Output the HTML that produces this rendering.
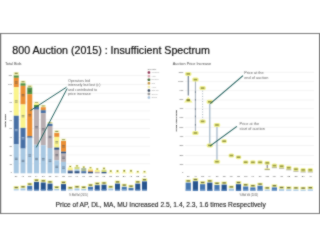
<!DOCTYPE html>
<html><head><meta charset="utf-8"><style>
html,body{margin:0;padding:0;background:#fff;}
body{width:320px;height:247px;overflow:hidden;}
svg{display:block;font-family:"Liberation Sans",sans-serif;}
text{}
</style></head><body>
<svg width="320" height="247" viewBox="0 0 320 247">
<defs><filter id="soft" x="0" y="0" width="320" height="247" filterUnits="userSpaceOnUse" color-interpolation-filters="sRGB"><feConvolveMatrix order="3" kernelMatrix="1 2 1 2 14 2 1 2 1" divisor="26" edgeMode="duplicate"/></filter></defs>
<g filter="url(#soft)">
<rect x="0" y="0" width="320" height="247" fill="#fff"/>
<rect x="0.00" y="33.00" width="320.00" height="181.00" fill="#fff" />
<rect x="0.00" y="33.00" width="320.00" height="1.00" fill="#7a7a7a" />
<rect x="0.00" y="213.00" width="320.00" height="1.00" fill="#7a7a7a" />
<rect x="319.00" y="33.00" width="1.00" height="181.00" fill="#7a7a7a" />
<rect x="0.00" y="33.00" width="1.20" height="181.00" fill="#777" />
<rect x="13.00" y="75.20" width="137.00" height="0.80" fill="#f1f1f1" />
<rect x="13.00" y="84.02" width="137.00" height="0.80" fill="#f1f1f1" />
<rect x="13.00" y="92.84" width="137.00" height="0.80" fill="#f1f1f1" />
<rect x="13.00" y="101.66" width="137.00" height="0.80" fill="#f1f1f1" />
<rect x="13.00" y="110.48" width="137.00" height="0.80" fill="#f1f1f1" />
<rect x="13.00" y="119.30" width="137.00" height="0.80" fill="#f1f1f1" />
<rect x="13.00" y="128.12" width="137.00" height="0.80" fill="#f1f1f1" />
<rect x="13.00" y="136.94" width="137.00" height="0.80" fill="#f1f1f1" />
<rect x="13.00" y="145.76" width="137.00" height="0.80" fill="#f1f1f1" />
<rect x="13.00" y="154.58" width="137.00" height="0.80" fill="#f1f1f1" />
<rect x="13.00" y="163.40" width="137.00" height="0.80" fill="#f1f1f1" />
<rect x="185.00" y="71.85" width="129.00" height="0.80" fill="#f1f1f1" />
<rect x="185.00" y="80.90" width="129.00" height="0.80" fill="#f1f1f1" />
<rect x="185.00" y="90.30" width="129.00" height="0.80" fill="#f1f1f1" />
<rect x="185.00" y="99.60" width="129.00" height="0.80" fill="#f1f1f1" />
<rect x="185.00" y="108.35" width="129.00" height="0.80" fill="#f1f1f1" />
<rect x="185.00" y="117.60" width="129.00" height="0.80" fill="#f1f1f1" />
<rect x="185.00" y="126.85" width="129.00" height="0.80" fill="#f1f1f1" />
<rect x="185.00" y="135.85" width="129.00" height="0.80" fill="#f1f1f1" />
<rect x="185.00" y="145.20" width="129.00" height="0.80" fill="#f1f1f1" />
<rect x="185.00" y="155.20" width="129.00" height="0.80" fill="#f1f1f1" />
<rect x="185.00" y="164.35" width="129.00" height="0.80" fill="#f1f1f1" />
<text x="4.90" y="64.70" font-size="3.84" fill="#4a4a4a" text-anchor="start" >Total Bids</text>
<text x="11.90" y="76.40" font-size="2.2" fill="#3a3a3a" text-anchor="end" >110</text>
<text x="11.90" y="85.22" font-size="2.2" fill="#3a3a3a" text-anchor="end" >100</text>
<text x="11.90" y="94.04" font-size="2.2" fill="#3a3a3a" text-anchor="end" >90</text>
<text x="11.90" y="102.86" font-size="2.2" fill="#3a3a3a" text-anchor="end" >80</text>
<text x="11.90" y="111.68" font-size="2.2" fill="#3a3a3a" text-anchor="end" >70</text>
<text x="11.90" y="120.50" font-size="2.2" fill="#3a3a3a" text-anchor="end" >60</text>
<text x="11.90" y="129.32" font-size="2.2" fill="#3a3a3a" text-anchor="end" >50</text>
<text x="11.90" y="138.14" font-size="2.2" fill="#3a3a3a" text-anchor="end" >40</text>
<text x="11.90" y="146.96" font-size="2.2" fill="#3a3a3a" text-anchor="end" >30</text>
<text x="11.90" y="155.78" font-size="2.2" fill="#3a3a3a" text-anchor="end" >20</text>
<text x="11.90" y="164.60" font-size="2.2" fill="#3a3a3a" text-anchor="end" >10</text>
<text x="11.90" y="173.42" font-size="2.2" fill="#3a3a3a" text-anchor="end" >0</text>
<text x="6.30" y="120.80" font-size="2.3" fill="#333" text-anchor="middle" transform="rotate(-90 6.3 120.8)" textLength="13.2" lengthAdjust="spacingAndGlyphs" stroke="#333" stroke-width="0.1">Total Bids</text>
<rect x="13.55" y="72.20" width="5.40" height="3.00" fill="#f3f3b6" />
<rect x="14.75" y="72.70" width="3.00" height="1.32" fill="#6a6a22" opacity="0.75"/>
<rect x="13.75" y="75.50" width="5.00" height="2.30" fill="#549441" />
<rect x="13.75" y="77.80" width="5.00" height="9.40" fill="#eb8f34" />
<rect x="14.85" y="81.40" width="2.80" height="0.80" fill="#3a4656" opacity="0.55"/>
<rect x="14.85" y="82.80" width="2.80" height="0.80" fill="#3a4656" opacity="0.55"/>
<rect x="13.75" y="87.20" width="5.00" height="28.55" fill="#faf48c" />
<rect x="14.85" y="100.38" width="2.80" height="0.80" fill="#3a4656" opacity="0.55"/>
<rect x="14.85" y="101.77" width="2.80" height="0.80" fill="#3a4656" opacity="0.55"/>
<rect x="13.75" y="115.75" width="5.00" height="28.65" fill="#4870a5" />
<rect x="14.85" y="128.97" width="2.80" height="0.80" fill="#dfe8f2" opacity="0.6"/>
<rect x="14.85" y="130.38" width="2.80" height="0.80" fill="#dfe8f2" opacity="0.6"/>
<rect x="13.75" y="144.40" width="5.00" height="28.90" fill="#a8c8e2" />
<rect x="14.85" y="157.75" width="2.80" height="0.80" fill="#3a4656" opacity="0.55"/>
<rect x="14.85" y="159.15" width="2.80" height="0.80" fill="#3a4656" opacity="0.55"/>
<rect x="20.30" y="80.70" width="5.40" height="2.30" fill="#f3f3b6" />
<rect x="21.50" y="81.20" width="3.00" height="1.04" fill="#6a6a22" opacity="0.75"/>
<rect x="20.50" y="83.30" width="5.00" height="2.50" fill="#549441" />
<rect x="20.50" y="85.80" width="5.00" height="18.70" fill="#eb8f34" />
<rect x="21.60" y="94.05" width="2.80" height="0.80" fill="#3a4656" opacity="0.55"/>
<rect x="21.60" y="95.45" width="2.80" height="0.80" fill="#3a4656" opacity="0.55"/>
<rect x="20.50" y="104.50" width="5.00" height="23.40" fill="#faf48c" />
<rect x="21.60" y="115.10" width="2.80" height="0.80" fill="#3a4656" opacity="0.55"/>
<rect x="21.60" y="116.50" width="2.80" height="0.80" fill="#3a4656" opacity="0.55"/>
<rect x="20.50" y="127.90" width="5.00" height="20.70" fill="#4870a5" />
<rect x="21.60" y="137.15" width="2.80" height="0.80" fill="#dfe8f2" opacity="0.6"/>
<rect x="21.60" y="138.55" width="2.80" height="0.80" fill="#dfe8f2" opacity="0.6"/>
<rect x="20.50" y="148.60" width="5.00" height="24.70" fill="#a8c8e2" />
<rect x="21.60" y="159.85" width="2.80" height="0.80" fill="#3a4656" opacity="0.55"/>
<rect x="21.60" y="161.25" width="2.80" height="0.80" fill="#3a4656" opacity="0.55"/>
<rect x="27.05" y="85.30" width="5.40" height="1.90" fill="#f3f3b6" />
<rect x="28.25" y="85.80" width="3.00" height="0.88" fill="#6a6a22" opacity="0.75"/>
<rect x="27.25" y="87.50" width="5.00" height="6.70" fill="#549441" />
<rect x="28.35" y="89.75" width="2.80" height="0.80" fill="#3a4656" opacity="0.55"/>
<rect x="28.35" y="91.15" width="2.80" height="0.80" fill="#3a4656" opacity="0.55"/>
<rect x="27.25" y="94.20" width="5.00" height="42.05" fill="#eb8f34" />
<rect x="28.35" y="114.12" width="2.80" height="0.80" fill="#3a4656" opacity="0.55"/>
<rect x="28.35" y="115.52" width="2.80" height="0.80" fill="#3a4656" opacity="0.55"/>
<rect x="27.25" y="136.25" width="5.00" height="1.45" fill="#2c4f80" />
<rect x="27.25" y="137.70" width="5.00" height="35.60" fill="#a8c8e2" />
<rect x="28.35" y="154.40" width="2.80" height="0.80" fill="#3a4656" opacity="0.55"/>
<rect x="28.35" y="155.80" width="2.80" height="0.80" fill="#3a4656" opacity="0.55"/>
<rect x="33.80" y="101.75" width="5.40" height="1.15" fill="#f3f3b6" />
<rect x="35.00" y="102.25" width="3.00" height="0.70" fill="#6a6a22" opacity="0.75"/>
<rect x="34.00" y="103.20" width="5.00" height="1.80" fill="#faf48c" />
<rect x="34.00" y="105.00" width="5.00" height="2.00" fill="#549441" />
<rect x="34.00" y="107.00" width="5.00" height="2.70" fill="#4870a5" />
<rect x="34.00" y="109.70" width="5.00" height="35.00" fill="#b8aeb1" />
<rect x="35.10" y="126.10" width="2.80" height="0.80" fill="#3a4656" opacity="0.55"/>
<rect x="35.10" y="127.50" width="2.80" height="0.80" fill="#3a4656" opacity="0.55"/>
<rect x="34.00" y="144.70" width="5.00" height="28.60" fill="#a8c8e2" />
<rect x="35.10" y="157.90" width="2.80" height="0.80" fill="#3a4656" opacity="0.55"/>
<rect x="35.10" y="159.30" width="2.80" height="0.80" fill="#3a4656" opacity="0.55"/>
<rect x="40.55" y="105.00" width="5.40" height="1.90" fill="#f3f3b6" />
<rect x="41.75" y="105.50" width="3.00" height="0.88" fill="#6a6a22" opacity="0.75"/>
<rect x="40.75" y="107.20" width="5.00" height="3.00" fill="#eb8f34" />
<rect x="40.75" y="110.20" width="5.00" height="3.00" fill="#4870a5" />
<rect x="40.75" y="113.20" width="5.00" height="32.00" fill="#b8aeb1" />
<rect x="41.85" y="128.10" width="2.80" height="0.80" fill="#3a4656" opacity="0.55"/>
<rect x="41.85" y="129.50" width="2.80" height="0.80" fill="#3a4656" opacity="0.55"/>
<rect x="40.75" y="145.20" width="5.00" height="28.10" fill="#a8c8e2" />
<rect x="41.85" y="158.15" width="2.80" height="0.80" fill="#3a4656" opacity="0.55"/>
<rect x="41.85" y="159.55" width="2.80" height="0.80" fill="#3a4656" opacity="0.55"/>
<rect x="47.30" y="122.00" width="5.40" height="1.50" fill="#f3f3b6" />
<rect x="48.50" y="122.50" width="3.00" height="0.72" fill="#6a6a22" opacity="0.75"/>
<rect x="47.50" y="123.80" width="5.00" height="2.20" fill="#4870a5" />
<rect x="47.50" y="126.00" width="5.00" height="22.00" fill="#b8aeb1" />
<rect x="48.60" y="135.90" width="2.80" height="0.80" fill="#3a4656" opacity="0.55"/>
<rect x="48.60" y="137.30" width="2.80" height="0.80" fill="#3a4656" opacity="0.55"/>
<rect x="47.50" y="148.00" width="5.00" height="25.30" fill="#a8c8e2" />
<rect x="48.60" y="159.55" width="2.80" height="0.80" fill="#3a4656" opacity="0.55"/>
<rect x="48.60" y="160.95" width="2.80" height="0.80" fill="#3a4656" opacity="0.55"/>
<rect x="54.05" y="130.40" width="5.40" height="2.30" fill="#f3f3b6" />
<rect x="55.25" y="130.90" width="3.00" height="1.04" fill="#6a6a22" opacity="0.75"/>
<rect x="54.25" y="133.00" width="5.00" height="3.90" fill="#eb8f34" />
<rect x="54.25" y="136.90" width="5.00" height="10.70" fill="#faf48c" />
<rect x="55.35" y="141.15" width="2.80" height="0.80" fill="#3a4656" opacity="0.55"/>
<rect x="55.35" y="142.55" width="2.80" height="0.80" fill="#3a4656" opacity="0.55"/>
<rect x="54.25" y="147.60" width="5.00" height="2.20" fill="#2c4f80" />
<rect x="54.25" y="149.80" width="5.00" height="10.60" fill="#b8aeb1" />
<rect x="55.35" y="154.00" width="2.80" height="0.80" fill="#3a4656" opacity="0.55"/>
<rect x="55.35" y="155.40" width="2.80" height="0.80" fill="#3a4656" opacity="0.55"/>
<rect x="54.25" y="160.40" width="5.00" height="12.90" fill="#a8c8e2" />
<rect x="55.35" y="165.75" width="2.80" height="0.80" fill="#3a4656" opacity="0.55"/>
<rect x="55.35" y="167.15" width="2.80" height="0.80" fill="#3a4656" opacity="0.55"/>
<rect x="60.80" y="138.75" width="5.40" height="1.95" fill="#f3f3b6" />
<rect x="62.00" y="139.25" width="3.00" height="0.90" fill="#6a6a22" opacity="0.75"/>
<rect x="61.00" y="141.00" width="5.00" height="10.70" fill="#eb8f34" />
<rect x="62.10" y="145.25" width="2.80" height="0.80" fill="#3a4656" opacity="0.55"/>
<rect x="62.10" y="146.65" width="2.80" height="0.80" fill="#3a4656" opacity="0.55"/>
<rect x="61.00" y="151.70" width="5.00" height="1.90" fill="#2c4f80" />
<rect x="61.00" y="153.60" width="5.00" height="8.30" fill="#b8aeb1" />
<rect x="62.10" y="156.65" width="2.80" height="0.80" fill="#3a4656" opacity="0.55"/>
<rect x="62.10" y="158.05" width="2.80" height="0.80" fill="#3a4656" opacity="0.55"/>
<rect x="61.00" y="161.90" width="5.00" height="11.40" fill="#a8c8e2" />
<rect x="62.10" y="166.50" width="2.80" height="0.80" fill="#3a4656" opacity="0.55"/>
<rect x="62.10" y="167.90" width="2.80" height="0.80" fill="#3a4656" opacity="0.55"/>
<rect x="68.95" y="165.60" width="2.60" height="1.70" fill="#eff08e" />
<rect x="69.55" y="166.00" width="1.40" height="1.05" fill="#6a6a22" opacity="0.8"/>
<rect x="67.75" y="167.50" width="5.00" height="2.50" fill="#faf48c" />
<rect x="67.75" y="170.00" width="5.00" height="1.20" fill="#b8aeb1" />
<rect x="67.75" y="171.20" width="5.00" height="2.10" fill="#2c4f80" />
<rect x="75.70" y="165.00" width="2.60" height="1.70" fill="#eff08e" />
<rect x="76.30" y="165.40" width="1.40" height="1.05" fill="#6a6a22" opacity="0.8"/>
<rect x="74.50" y="166.90" width="5.00" height="2.50" fill="#d3da7e" />
<rect x="74.50" y="169.40" width="5.00" height="1.80" fill="#a8c8e2" />
<rect x="74.50" y="171.20" width="5.00" height="2.10" fill="#2c4f80" />
<rect x="82.45" y="166.20" width="2.60" height="1.70" fill="#eff08e" />
<rect x="83.05" y="166.60" width="1.40" height="1.05" fill="#6a6a22" opacity="0.8"/>
<rect x="81.25" y="168.10" width="5.00" height="3.10" fill="#a9b994" />
<rect x="81.25" y="171.20" width="5.00" height="2.10" fill="#4870a5" />
<rect x="89.20" y="166.90" width="2.60" height="1.65" fill="#eff08e" />
<rect x="89.80" y="167.30" width="1.40" height="1.02" fill="#6a6a22" opacity="0.8"/>
<rect x="88.00" y="168.75" width="5.00" height="1.85" fill="#faf48c" />
<rect x="88.00" y="170.60" width="5.00" height="1.20" fill="#eb8f34" />
<rect x="88.00" y="171.80" width="5.00" height="1.50" fill="#2c4f80" />
<rect x="95.95" y="168.10" width="2.60" height="1.70" fill="#eff08e" />
<rect x="96.55" y="168.50" width="1.40" height="1.05" fill="#6a6a22" opacity="0.8"/>
<rect x="94.75" y="170.00" width="5.00" height="1.90" fill="#faf48c" />
<rect x="94.75" y="171.90" width="5.00" height="1.40" fill="#b8aeb1" />
<rect x="102.70" y="167.40" width="2.60" height="2.20" fill="#eff08e" />
<rect x="103.30" y="167.80" width="1.40" height="1.32" fill="#6a6a22" opacity="0.8"/>
<rect x="101.50" y="169.80" width="5.00" height="2.20" fill="#d3da7e" />
<rect x="101.50" y="172.00" width="5.00" height="1.30" fill="#2c4f80" />
<rect x="109.45" y="170.00" width="2.60" height="2.30" fill="#eff08e" />
<rect x="110.05" y="170.40" width="1.40" height="1.38" fill="#6a6a22" opacity="0.8"/>
<rect x="108.25" y="172.50" width="5.00" height="0.80" fill="#faf48c" />
<rect x="116.20" y="170.00" width="2.60" height="2.30" fill="#eff08e" />
<rect x="116.80" y="170.40" width="1.40" height="1.38" fill="#6a6a22" opacity="0.8"/>
<rect x="115.00" y="172.50" width="5.00" height="0.80" fill="#faf48c" />
<rect x="122.95" y="169.60" width="2.60" height="2.70" fill="#eff08e" />
<rect x="123.55" y="170.00" width="1.40" height="1.60" fill="#6a6a22" opacity="0.8"/>
<rect x="121.75" y="172.50" width="5.00" height="0.80" fill="#faf48c" />
<rect x="129.70" y="169.60" width="2.60" height="2.70" fill="#eff08e" />
<rect x="130.30" y="170.00" width="1.40" height="1.60" fill="#6a6a22" opacity="0.8"/>
<rect x="128.50" y="172.50" width="5.00" height="0.80" fill="#faf48c" />
<rect x="136.45" y="170.80" width="2.60" height="1.80" fill="#eff08e" />
<rect x="137.05" y="171.20" width="1.40" height="1.10" fill="#6a6a22" opacity="0.8"/>
<rect x="135.25" y="172.80" width="5.00" height="0.50" fill="#faf48c" />
<rect x="143.20" y="170.80" width="2.60" height="1.80" fill="#eff08e" />
<rect x="143.80" y="171.20" width="1.40" height="1.10" fill="#6a6a22" opacity="0.8"/>
<rect x="142.00" y="172.80" width="5.00" height="0.50" fill="#faf48c" />
<text x="16.10" y="176.70" font-size="2.1" fill="#333" text-anchor="middle" >DL</text>
<text x="22.85" y="176.70" font-size="2.1" fill="#333" text-anchor="middle" >AP</text>
<text x="29.60" y="176.70" font-size="2.1" fill="#333" text-anchor="middle" >MU</text>
<text x="36.35" y="176.70" font-size="2.1" fill="#333" text-anchor="middle" >KA</text>
<text x="43.10" y="176.70" font-size="2.1" fill="#333" text-anchor="middle" >GJ</text>
<text x="49.85" y="176.70" font-size="2.1" fill="#333" text-anchor="middle" >TN</text>
<text x="56.60" y="176.70" font-size="2.1" fill="#333" text-anchor="middle" >MH</text>
<text x="63.35" y="176.70" font-size="2.1" fill="#333" text-anchor="middle" >UE</text>
<text x="70.10" y="176.70" font-size="2.1" fill="#333" text-anchor="middle" >UW</text>
<text x="76.85" y="176.70" font-size="2.1" fill="#333" text-anchor="middle" >KL</text>
<text x="83.60" y="176.70" font-size="2.1" fill="#333" text-anchor="middle" >RJ</text>
<text x="90.35" y="176.70" font-size="2.1" fill="#333" text-anchor="middle" >WB</text>
<text x="97.10" y="176.70" font-size="2.1" fill="#333" text-anchor="middle" >MP</text>
<text x="103.85" y="176.70" font-size="2.1" fill="#333" text-anchor="middle" >HR</text>
<text x="110.60" y="176.70" font-size="2.1" fill="#333" text-anchor="middle" >PB</text>
<text x="117.35" y="176.70" font-size="2.1" fill="#333" text-anchor="middle" >OR</text>
<text x="124.10" y="176.70" font-size="2.1" fill="#333" text-anchor="middle" >BH</text>
<text x="130.85" y="176.70" font-size="2.1" fill="#333" text-anchor="middle" >AS</text>
<text x="137.60" y="176.70" font-size="2.1" fill="#333" text-anchor="middle" >NE</text>
<text x="144.35" y="176.70" font-size="2.1" fill="#333" text-anchor="middle" >HP</text>
<rect x="13.55" y="186.20" width="5.40" height="2.60" fill="#eff08e" />
<rect x="14.65" y="186.85" width="3.20" height="1.30" fill="#4d4d2a" opacity="0.8"/>
<rect x="13.75" y="189.20" width="5.00" height="1.20" fill="#a3c6e4" />
<rect x="20.30" y="185.50" width="5.40" height="2.60" fill="#eff08e" />
<rect x="21.40" y="186.15" width="3.20" height="1.30" fill="#4d4d2a" opacity="0.8"/>
<rect x="20.50" y="188.50" width="5.00" height="1.90" fill="#a3c6e4" />
<rect x="27.05" y="182.80" width="5.40" height="2.60" fill="#eff08e" />
<rect x="28.15" y="183.45" width="3.20" height="1.30" fill="#4d4d2a" opacity="0.8"/>
<rect x="27.25" y="185.80" width="5.00" height="4.60" fill="#4677b0" />
<rect x="27.25" y="189.10" width="5.00" height="1.30" fill="#7ea6d2" />
<rect x="33.80" y="178.90" width="5.40" height="2.60" fill="#eff08e" />
<rect x="34.90" y="179.55" width="3.20" height="1.30" fill="#4d4d2a" opacity="0.8"/>
<rect x="34.00" y="181.90" width="5.00" height="8.50" fill="#28558e" />
<rect x="34.00" y="189.10" width="5.00" height="1.30" fill="#4f7fb8" />
<rect x="40.55" y="179.50" width="5.40" height="2.60" fill="#eff08e" />
<rect x="41.65" y="180.15" width="3.20" height="1.30" fill="#4d4d2a" opacity="0.8"/>
<rect x="40.75" y="182.50" width="5.00" height="7.90" fill="#28558e" />
<rect x="40.75" y="189.10" width="5.00" height="1.30" fill="#4f7fb8" />
<rect x="47.30" y="180.60" width="5.40" height="2.60" fill="#eff08e" />
<rect x="48.40" y="181.25" width="3.20" height="1.30" fill="#4d4d2a" opacity="0.8"/>
<rect x="47.50" y="183.60" width="5.00" height="6.80" fill="#28558e" />
<rect x="47.50" y="189.10" width="5.00" height="1.30" fill="#4f7fb8" />
<rect x="54.05" y="186.00" width="5.40" height="2.60" fill="#eff08e" />
<rect x="55.15" y="186.65" width="3.20" height="1.30" fill="#4d4d2a" opacity="0.8"/>
<rect x="54.25" y="189.00" width="5.00" height="1.40" fill="#a3c6e4" />
<rect x="60.80" y="181.10" width="5.40" height="2.60" fill="#eff08e" />
<rect x="61.90" y="181.75" width="3.20" height="1.30" fill="#4d4d2a" opacity="0.8"/>
<rect x="61.00" y="184.10" width="5.00" height="6.30" fill="#28558e" />
<rect x="61.00" y="189.10" width="5.00" height="1.30" fill="#4f7fb8" />
<rect x="67.55" y="186.50" width="5.40" height="2.60" fill="#eff08e" />
<rect x="68.65" y="187.15" width="3.20" height="1.30" fill="#4d4d2a" opacity="0.8"/>
<rect x="67.75" y="189.50" width="5.00" height="0.90" fill="#a3c6e4" />
<rect x="74.30" y="185.50" width="5.40" height="2.60" fill="#eff08e" />
<rect x="75.40" y="186.15" width="3.20" height="1.30" fill="#4d4d2a" opacity="0.8"/>
<rect x="74.50" y="188.50" width="5.00" height="1.90" fill="#a3c6e4" />
<rect x="81.05" y="186.00" width="5.40" height="2.60" fill="#eff08e" />
<rect x="82.15" y="186.65" width="3.20" height="1.30" fill="#4d4d2a" opacity="0.8"/>
<rect x="81.25" y="189.00" width="5.00" height="1.40" fill="#a3c6e4" />
<rect x="87.80" y="183.80" width="5.40" height="2.60" fill="#eff08e" />
<rect x="88.90" y="184.45" width="3.20" height="1.30" fill="#4d4d2a" opacity="0.8"/>
<rect x="88.00" y="186.80" width="5.00" height="3.60" fill="#4677b0" />
<rect x="88.00" y="189.10" width="5.00" height="1.30" fill="#7ea6d2" />
<rect x="94.55" y="182.20" width="5.40" height="2.60" fill="#eff08e" />
<rect x="95.65" y="182.85" width="3.20" height="1.30" fill="#4d4d2a" opacity="0.8"/>
<rect x="94.75" y="185.20" width="5.00" height="5.20" fill="#28558e" />
<rect x="94.75" y="189.10" width="5.00" height="1.30" fill="#4f7fb8" />
<rect x="101.30" y="181.70" width="5.40" height="2.60" fill="#eff08e" />
<rect x="102.40" y="182.35" width="3.20" height="1.30" fill="#4d4d2a" opacity="0.8"/>
<rect x="101.50" y="184.70" width="5.00" height="5.70" fill="#28558e" />
<rect x="101.50" y="189.10" width="5.00" height="1.30" fill="#4f7fb8" />
<rect x="108.05" y="185.50" width="5.40" height="2.60" fill="#eff08e" />
<rect x="109.15" y="186.15" width="3.20" height="1.30" fill="#4d4d2a" opacity="0.8"/>
<rect x="108.25" y="188.50" width="5.00" height="1.90" fill="#a3c6e4" />
<rect x="114.80" y="180.60" width="5.40" height="2.60" fill="#eff08e" />
<rect x="115.90" y="181.25" width="3.20" height="1.30" fill="#4d4d2a" opacity="0.8"/>
<rect x="115.00" y="183.60" width="5.00" height="6.80" fill="#28558e" />
<rect x="115.00" y="189.10" width="5.00" height="1.30" fill="#4f7fb8" />
<rect x="121.55" y="183.80" width="5.40" height="2.60" fill="#eff08e" />
<rect x="122.65" y="184.45" width="3.20" height="1.30" fill="#4d4d2a" opacity="0.8"/>
<rect x="121.75" y="186.80" width="5.00" height="3.60" fill="#4677b0" />
<rect x="121.75" y="189.10" width="5.00" height="1.30" fill="#7ea6d2" />
<rect x="128.30" y="184.90" width="5.40" height="2.60" fill="#eff08e" />
<rect x="129.40" y="185.55" width="3.20" height="1.30" fill="#4d4d2a" opacity="0.8"/>
<rect x="128.50" y="187.90" width="5.00" height="2.50" fill="#4677b0" />
<rect x="135.05" y="180.60" width="5.40" height="2.60" fill="#eff08e" />
<rect x="136.15" y="181.25" width="3.20" height="1.30" fill="#4d4d2a" opacity="0.8"/>
<rect x="135.25" y="183.60" width="5.00" height="6.80" fill="#28558e" />
<rect x="135.25" y="189.10" width="5.00" height="1.30" fill="#4f7fb8" />
<rect x="141.80" y="178.40" width="5.40" height="2.60" fill="#eff08e" />
<rect x="142.90" y="179.05" width="3.20" height="1.30" fill="#4d4d2a" opacity="0.8"/>
<rect x="142.00" y="181.40" width="5.00" height="9.00" fill="#28558e" />
<rect x="142.00" y="189.10" width="5.00" height="1.30" fill="#4f7fb8" />
<text x="69.00" y="195.50" font-size="2.7" fill="#505050" text-anchor="start" textLength="18.8" lengthAdjust="spacingAndGlyphs">% Bid Vol (2015)</text>
<text x="147.60" y="69.90" font-size="2.2" fill="#555" text-anchor="start" >Operator</text>
<rect x="147.6" y="71.35" width="2.6" height="2.5" rx="0.8" fill="#8e3452"/>
<text x="151.40" y="73.30" font-size="1.9" fill="#a0a0a0" text-anchor="start" >Vodafone</text>
<rect x="147.6" y="74.92" width="2.6" height="2.5" rx="0.8" fill="#dca6b2"/>
<text x="151.40" y="76.87" font-size="1.9" fill="#a0a0a0" text-anchor="start" >Airtel</text>
<rect x="147.6" y="78.49" width="2.6" height="2.5" rx="0.8" fill="#4a7040"/>
<text x="151.40" y="80.44" font-size="1.9" fill="#a0a0a0" text-anchor="start" >Reliance</text>
<rect x="147.6" y="82.06" width="2.6" height="2.5" rx="0.8" fill="#c99a4c"/>
<text x="151.40" y="84.01" font-size="1.9" fill="#a0a0a0" text-anchor="start" >Idea</text>
<rect x="147.6" y="85.63" width="2.6" height="2.5" rx="0.8" fill="#f3eeb0"/>
<text x="151.40" y="87.58" font-size="1.9" fill="#a0a0a0" text-anchor="start" >Aircel</text>
<rect x="147.6" y="89.20" width="2.6" height="2.5" rx="0.8" fill="#3e4d62"/>
<text x="151.40" y="91.15" font-size="1.9" fill="#a0a0a0" text-anchor="start" >Tata Tele</text>
<rect x="147.6" y="92.77" width="2.6" height="2.5" rx="0.8" fill="#9c9c9c"/>
<text x="151.40" y="94.72" font-size="1.9" fill="#a0a0a0" text-anchor="start" >Telenor</text>
<rect x="147.6" y="96.34" width="2.6" height="2.5" rx="0.8" fill="#aac2da"/>
<text x="151.40" y="98.29" font-size="1.9" fill="#a0a0a0" text-anchor="start" >Others</text>
<text x="68.00" y="81.80" font-size="3.65" fill="#666" text-anchor="start" >Operators bid</text>
<text x="68.00" y="86.18" font-size="3.65" fill="#666" text-anchor="start" >intensely but lost (c)</text>
<text x="68.00" y="90.56" font-size="3.65" fill="#666" text-anchor="start" >and contributed to</text>
<text x="68.00" y="94.94" font-size="3.65" fill="#666" text-anchor="start" >price increase</text>
<line x1="66.50" y1="87.20" x2="30.50" y2="110.50" stroke="#1f5f5c" stroke-width="1.0" />
<line x1="67.20" y1="88.50" x2="36.30" y2="147.40" stroke="#1f5f5c" stroke-width="1.0" />
<text x="172.80" y="64.70" font-size="3.84" fill="#4a4a4a" text-anchor="start" >Auction Price Increase</text>
<text x="183.40" y="72.65" font-size="2.3" fill="#3a3a3a" text-anchor="end" >1100</text>
<text x="183.40" y="81.70" font-size="2.3" fill="#3a3a3a" text-anchor="end" >1000</text>
<text x="183.40" y="91.10" font-size="2.3" fill="#3a3a3a" text-anchor="end" >900</text>
<text x="183.40" y="100.40" font-size="2.3" fill="#3a3a3a" text-anchor="end" >800</text>
<text x="183.40" y="109.15" font-size="2.3" fill="#3a3a3a" text-anchor="end" >700</text>
<text x="183.40" y="118.40" font-size="2.3" fill="#3a3a3a" text-anchor="end" >600</text>
<text x="183.40" y="127.65" font-size="2.3" fill="#3a3a3a" text-anchor="end" >500</text>
<text x="183.40" y="136.65" font-size="2.3" fill="#3a3a3a" text-anchor="end" >400</text>
<text x="183.40" y="146.00" font-size="2.3" fill="#3a3a3a" text-anchor="end" >300</text>
<text x="183.40" y="156.00" font-size="2.3" fill="#3a3a3a" text-anchor="end" >200</text>
<text x="183.40" y="165.15" font-size="2.3" fill="#3a3a3a" text-anchor="end" >100</text>
<text x="183.40" y="172.65" font-size="2.3" fill="#3a3a3a" text-anchor="end" >0</text>
<text x="176.60" y="120.70" font-size="2.4" fill="#333" text-anchor="middle" transform="rotate(-90 176.6 120.7)" textLength="21.6" lengthAdjust="spacingAndGlyphs" stroke="#333" stroke-width="0.1">Price (Rs Crore)</text>
<line x1="188.25" y1="73.90" x2="188.25" y2="95.50" stroke="#56687c" stroke-width="1.0" />
<path d="M188.25 96.8 L192.55 102.5 L183.95 102.5 Z" fill="#eff08e"/>
<rect x="186.55" y="99.20" width="3.40" height="2.00" fill="#6a6a22" opacity="0.85"/>
<rect x="185.05" y="71.90" width="6.40" height="4.0" rx="1.6" fill="#eff08e"/>
<rect x="186.45" y="73.10" width="3.60" height="1.60" fill="#6a6a22" opacity="0.65"/>
<line x1="195.43" y1="79.60" x2="195.43" y2="133.00" stroke="#8c98a6" stroke-width="0.8" />
<line x1="195.43" y1="91.30" x2="195.43" y2="92.90" stroke="#6a7888" stroke-width="0.9" />
<line x1="195.43" y1="99.00" x2="195.43" y2="100.60" stroke="#6a7888" stroke-width="0.9" />
<line x1="195.43" y1="108.30" x2="195.43" y2="109.90" stroke="#6a7888" stroke-width="0.9" />
<line x1="195.43" y1="115.60" x2="195.43" y2="117.20" stroke="#6a7888" stroke-width="0.9" />
<line x1="195.43" y1="124.00" x2="195.43" y2="125.60" stroke="#6a7888" stroke-width="0.9" />
<rect x="192.23" y="131.00" width="6.40" height="4.0" rx="1.6" fill="#eff08e"/>
<rect x="193.63" y="132.20" width="3.60" height="1.60" fill="#6a6a22" opacity="0.65"/>
<rect x="192.23" y="77.60" width="6.40" height="4.0" rx="1.6" fill="#eff08e"/>
<rect x="193.63" y="78.80" width="3.60" height="1.60" fill="#6a6a22" opacity="0.65"/>
<line x1="202.61" y1="88.10" x2="202.61" y2="121.40" stroke="#9aa6b2" stroke-width="0.9" stroke-dasharray="1 1.6"/>
<rect x="199.41" y="119.40" width="6.40" height="4.0" rx="1.6" fill="#eff08e"/>
<rect x="200.81" y="120.60" width="3.60" height="1.60" fill="#6a6a22" opacity="0.65"/>
<rect x="199.41" y="86.10" width="6.40" height="4.0" rx="1.6" fill="#eff08e"/>
<rect x="200.81" y="87.30" width="3.60" height="1.60" fill="#6a6a22" opacity="0.65"/>
<line x1="209.79" y1="101.80" x2="209.79" y2="145.40" stroke="#9fb4c6" stroke-width="1.2" />
<rect x="206.59" y="143.40" width="6.40" height="4.0" rx="1.6" fill="#eff08e"/>
<rect x="207.99" y="144.60" width="3.60" height="1.60" fill="#6a6a22" opacity="0.65"/>
<rect x="206.59" y="99.80" width="6.40" height="4.0" rx="1.6" fill="#eff08e"/>
<rect x="207.99" y="101.00" width="3.60" height="1.60" fill="#6a6a22" opacity="0.65"/>
<line x1="216.97" y1="125.00" x2="216.97" y2="161.70" stroke="#9fb4c6" stroke-width="1.2" />
<rect x="213.77" y="159.70" width="6.40" height="4.0" rx="1.6" fill="#eff08e"/>
<rect x="215.17" y="160.90" width="3.60" height="1.60" fill="#6a6a22" opacity="0.65"/>
<rect x="213.77" y="123.00" width="6.40" height="4.0" rx="1.6" fill="#eff08e"/>
<rect x="215.17" y="124.20" width="3.60" height="1.60" fill="#6a6a22" opacity="0.65"/>
<rect x="221.40" y="139.20" width="5.50" height="4.0" rx="1.6" fill="#eff08e"/>
<rect x="222.35" y="140.40" width="3.60" height="1.60" fill="#6a6a22" opacity="0.65"/>
<rect x="228.58" y="153.50" width="5.50" height="4.0" rx="1.6" fill="#eff08e"/>
<rect x="229.53" y="154.70" width="3.60" height="1.60" fill="#6a6a22" opacity="0.65"/>
<rect x="235.76" y="155.20" width="5.50" height="4.0" rx="1.6" fill="#eff08e"/>
<rect x="236.71" y="156.40" width="3.60" height="1.60" fill="#6a6a22" opacity="0.65"/>
<rect x="242.94" y="160.20" width="5.50" height="4.0" rx="1.6" fill="#eff08e"/>
<rect x="243.89" y="161.40" width="3.60" height="1.60" fill="#6a6a22" opacity="0.65"/>
<rect x="250.12" y="160.30" width="5.50" height="4.0" rx="1.6" fill="#eff08e"/>
<rect x="251.07" y="161.50" width="3.60" height="1.60" fill="#6a6a22" opacity="0.65"/>
<rect x="257.30" y="160.30" width="5.50" height="4.0" rx="1.6" fill="#eff08e"/>
<rect x="258.25" y="161.50" width="3.60" height="1.60" fill="#6a6a22" opacity="0.65"/>
<rect x="264.48" y="160.90" width="5.50" height="4.0" rx="1.6" fill="#eff08e"/>
<rect x="265.43" y="162.10" width="3.60" height="1.60" fill="#6a6a22" opacity="0.65"/>
<line x1="267.23" y1="164.80" x2="267.23" y2="169.30" stroke="#4a4a4a" stroke-width="0.8" />
<rect x="264.63" y="168.30" width="5.20" height="1.60" fill="#eff08e" />
<line x1="264.63" y1="169.60" x2="269.83" y2="169.60" stroke="#5a5a4a" stroke-width="0.5" />
<rect x="271.66" y="163.60" width="5.50" height="4.0" rx="1.6" fill="#eff08e"/>
<rect x="272.61" y="164.80" width="3.60" height="1.60" fill="#6a6a22" opacity="0.65"/>
<line x1="271.81" y1="167.70" x2="277.01" y2="167.70" stroke="#6a6a5a" stroke-width="0.5" />
<rect x="278.84" y="164.20" width="5.50" height="4.0" rx="1.6" fill="#eff08e"/>
<rect x="279.79" y="165.40" width="3.60" height="1.60" fill="#6a6a22" opacity="0.65"/>
<line x1="278.99" y1="168.30" x2="284.19" y2="168.30" stroke="#6a6a5a" stroke-width="0.5" />
<rect x="286.02" y="165.70" width="5.50" height="4.0" rx="1.6" fill="#eff08e"/>
<rect x="286.97" y="166.90" width="3.60" height="1.60" fill="#6a6a22" opacity="0.65"/>
<line x1="286.17" y1="169.80" x2="291.37" y2="169.80" stroke="#6a6a5a" stroke-width="0.5" />
<rect x="293.20" y="167.20" width="5.50" height="4.0" rx="1.6" fill="#eff08e"/>
<rect x="294.15" y="168.40" width="3.60" height="1.60" fill="#6a6a22" opacity="0.65"/>
<line x1="293.35" y1="171.30" x2="298.55" y2="171.30" stroke="#6a6a5a" stroke-width="0.5" />
<rect x="300.38" y="167.90" width="5.50" height="4.0" rx="1.6" fill="#eff08e"/>
<rect x="301.33" y="169.10" width="3.60" height="1.60" fill="#6a6a22" opacity="0.65"/>
<line x1="300.53" y1="172.00" x2="305.73" y2="172.00" stroke="#6a6a5a" stroke-width="0.5" />
<rect x="307.56" y="167.90" width="5.50" height="4.0" rx="1.6" fill="#eff08e"/>
<rect x="308.51" y="169.10" width="3.60" height="1.60" fill="#6a6a22" opacity="0.65"/>
<line x1="307.71" y1="172.00" x2="312.91" y2="172.00" stroke="#6a6a5a" stroke-width="0.5" />
<text x="188.25" y="176.70" font-size="2.1" fill="#333" text-anchor="middle" >DL</text>
<text x="195.43" y="176.70" font-size="2.1" fill="#333" text-anchor="middle" >AP</text>
<text x="202.61" y="176.70" font-size="2.1" fill="#333" text-anchor="middle" >MU</text>
<text x="209.79" y="176.70" font-size="2.1" fill="#333" text-anchor="middle" >KA</text>
<text x="216.97" y="176.70" font-size="2.1" fill="#333" text-anchor="middle" >GJ</text>
<text x="224.15" y="176.70" font-size="2.1" fill="#333" text-anchor="middle" >TN</text>
<text x="231.33" y="176.70" font-size="2.1" fill="#333" text-anchor="middle" >MH</text>
<text x="238.51" y="176.70" font-size="2.1" fill="#333" text-anchor="middle" >UE</text>
<text x="245.69" y="176.70" font-size="2.1" fill="#333" text-anchor="middle" >UW</text>
<text x="252.87" y="176.70" font-size="2.1" fill="#333" text-anchor="middle" >KL</text>
<text x="260.05" y="176.70" font-size="2.1" fill="#333" text-anchor="middle" >RJ</text>
<text x="267.23" y="176.70" font-size="2.1" fill="#333" text-anchor="middle" >WB</text>
<text x="274.41" y="176.70" font-size="2.1" fill="#333" text-anchor="middle" >MP</text>
<text x="281.59" y="176.70" font-size="2.1" fill="#333" text-anchor="middle" >HR</text>
<text x="288.77" y="176.70" font-size="2.1" fill="#333" text-anchor="middle" >PB</text>
<text x="295.95" y="176.70" font-size="2.1" fill="#333" text-anchor="middle" >OR</text>
<text x="303.13" y="176.70" font-size="2.1" fill="#333" text-anchor="middle" >BH</text>
<text x="310.31" y="176.70" font-size="2.1" fill="#333" text-anchor="middle" >AS</text>
<rect x="185.45" y="179.60" width="5.60" height="2.60" fill="#eff08e" />
<rect x="186.55" y="180.25" width="3.40" height="1.30" fill="#4d4d2a" opacity="0.8"/>
<rect x="185.65" y="182.60" width="5.20" height="8.20" fill="#4677b0" />
<rect x="185.65" y="189.50" width="5.20" height="1.30" fill="#7ea6d2" />
<rect x="192.63" y="178.20" width="5.60" height="2.60" fill="#eff08e" />
<rect x="193.73" y="178.85" width="3.40" height="1.30" fill="#4d4d2a" opacity="0.8"/>
<rect x="192.83" y="181.20" width="5.20" height="9.60" fill="#28558e" />
<rect x="192.83" y="189.50" width="5.20" height="1.30" fill="#4f7fb8" />
<rect x="199.81" y="181.20" width="5.60" height="2.60" fill="#eff08e" />
<rect x="200.91" y="181.85" width="3.40" height="1.30" fill="#4d4d2a" opacity="0.8"/>
<rect x="200.01" y="184.20" width="5.20" height="6.60" fill="#4677b0" />
<rect x="200.01" y="189.50" width="5.20" height="1.30" fill="#7ea6d2" />
<rect x="206.99" y="179.60" width="5.60" height="2.60" fill="#eff08e" />
<rect x="208.09" y="180.25" width="3.40" height="1.30" fill="#4d4d2a" opacity="0.8"/>
<rect x="207.19" y="182.60" width="5.20" height="8.20" fill="#28558e" />
<rect x="207.19" y="189.50" width="5.20" height="1.30" fill="#4f7fb8" />
<rect x="214.17" y="182.00" width="5.60" height="2.60" fill="#eff08e" />
<rect x="215.27" y="182.65" width="3.40" height="1.30" fill="#4d4d2a" opacity="0.8"/>
<rect x="214.37" y="185.00" width="5.20" height="5.80" fill="#4677b0" />
<rect x="214.37" y="189.50" width="5.20" height="1.30" fill="#7ea6d2" />
<rect x="221.35" y="181.60" width="5.60" height="2.60" fill="#eff08e" />
<rect x="222.45" y="182.25" width="3.40" height="1.30" fill="#4d4d2a" opacity="0.8"/>
<rect x="221.55" y="184.60" width="5.20" height="6.20" fill="#28558e" />
<rect x="221.55" y="189.50" width="5.20" height="1.30" fill="#4f7fb8" />
<rect x="228.53" y="185.60" width="5.60" height="2.60" fill="#eff08e" />
<rect x="229.63" y="186.25" width="3.40" height="1.30" fill="#4d4d2a" opacity="0.8"/>
<rect x="228.73" y="188.60" width="5.20" height="2.20" fill="#a3c6e4" />
<rect x="235.71" y="181.20" width="5.60" height="2.60" fill="#eff08e" />
<rect x="236.81" y="181.85" width="3.40" height="1.30" fill="#4d4d2a" opacity="0.8"/>
<rect x="235.91" y="184.20" width="5.20" height="6.60" fill="#28558e" />
<rect x="235.91" y="189.50" width="5.20" height="1.30" fill="#4f7fb8" />
<rect x="242.89" y="183.50" width="5.60" height="2.60" fill="#eff08e" />
<rect x="243.99" y="184.15" width="3.40" height="1.30" fill="#4d4d2a" opacity="0.8"/>
<rect x="243.09" y="186.50" width="5.20" height="4.30" fill="#4677b0" />
<rect x="243.09" y="189.50" width="5.20" height="1.30" fill="#7ea6d2" />
<rect x="250.07" y="184.40" width="5.60" height="2.60" fill="#eff08e" />
<rect x="251.17" y="185.05" width="3.40" height="1.30" fill="#4d4d2a" opacity="0.8"/>
<rect x="250.27" y="187.40" width="5.20" height="3.40" fill="#4677b0" />
<rect x="250.27" y="189.50" width="5.20" height="1.30" fill="#7ea6d2" />
<rect x="257.25" y="182.80" width="5.60" height="2.60" fill="#eff08e" />
<rect x="258.35" y="183.45" width="3.40" height="1.30" fill="#4d4d2a" opacity="0.8"/>
<rect x="257.45" y="185.80" width="5.20" height="5.00" fill="#4677b0" />
<rect x="257.45" y="189.50" width="5.20" height="1.30" fill="#7ea6d2" />
<rect x="264.43" y="186.60" width="5.60" height="2.60" fill="#eff08e" />
<rect x="265.53" y="187.25" width="3.40" height="1.30" fill="#4d4d2a" opacity="0.8"/>
<rect x="264.63" y="189.60" width="5.20" height="1.20" fill="#a3c6e4" />
<rect x="271.61" y="184.40" width="5.60" height="2.60" fill="#eff08e" />
<rect x="272.71" y="185.05" width="3.40" height="1.30" fill="#4d4d2a" opacity="0.8"/>
<rect x="271.81" y="187.40" width="5.20" height="3.40" fill="#4677b0" />
<rect x="271.81" y="189.50" width="5.20" height="1.30" fill="#7ea6d2" />
<rect x="278.79" y="186.20" width="5.60" height="2.60" fill="#eff08e" />
<rect x="279.89" y="186.85" width="3.40" height="1.30" fill="#4d4d2a" opacity="0.8"/>
<rect x="278.99" y="189.20" width="5.20" height="1.60" fill="#a3c6e4" />
<rect x="285.97" y="186.40" width="5.60" height="2.60" fill="#eff08e" />
<rect x="287.07" y="187.05" width="3.40" height="1.30" fill="#4d4d2a" opacity="0.8"/>
<rect x="286.17" y="189.40" width="5.20" height="1.40" fill="#a3c6e4" />
<rect x="293.15" y="186.60" width="5.60" height="2.60" fill="#eff08e" />
<rect x="294.25" y="187.25" width="3.40" height="1.30" fill="#4d4d2a" opacity="0.8"/>
<rect x="293.35" y="189.60" width="5.20" height="1.20" fill="#a3c6e4" />
<rect x="300.33" y="186.80" width="5.60" height="2.60" fill="#eff08e" />
<rect x="301.43" y="187.45" width="3.40" height="1.30" fill="#4d4d2a" opacity="0.8"/>
<rect x="300.53" y="189.80" width="5.20" height="1.00" fill="#a3c6e4" />
<rect x="307.51" y="186.40" width="5.60" height="2.60" fill="#eff08e" />
<rect x="308.61" y="187.05" width="3.40" height="1.30" fill="#4d4d2a" opacity="0.8"/>
<rect x="307.71" y="189.40" width="5.20" height="1.40" fill="#a3c6e4" />
<text x="239.40" y="195.60" font-size="2.7" fill="#505050" text-anchor="start" textLength="18.7" lengthAdjust="spacingAndGlyphs">% Bid Vol (2015)</text>
<text x="244.20" y="74.30" font-size="3.85" fill="#666" text-anchor="start" >Price at the</text>
<text x="244.20" y="78.90" font-size="3.85" fill="#666" text-anchor="start" >end of auction</text>
<text x="239.60" y="124.90" font-size="3.85" fill="#666" text-anchor="start" >Price at the</text>
<text x="239.60" y="129.50" font-size="3.85" fill="#666" text-anchor="start" >start of auction</text>
<line x1="243.00" y1="75.60" x2="210.30" y2="103.60" stroke="#1f5f5c" stroke-width="1.05" />
<line x1="236.90" y1="126.30" x2="209.90" y2="146.20" stroke="#1f5f5c" stroke-width="1.05" />
<text x="12.30" y="53.60" font-size="10.67" fill="#111" text-anchor="start" stroke="#111" stroke-width="0.2" textLength="197.6" lengthAdjust="spacingAndGlyphs">800 Auction (2015) : Insufficient Spectrum</text>
<text x="55.50" y="206.60" font-size="6.7" fill="#222" text-anchor="start" stroke="#222" stroke-width="0.12" textLength="210.3" lengthAdjust="spacingAndGlyphs">Price of AP, DL, MA, MU Increased 2.5, 1.4, 2.3, 1.6 times Respectively</text>
</g>
</svg>
</body></html>
